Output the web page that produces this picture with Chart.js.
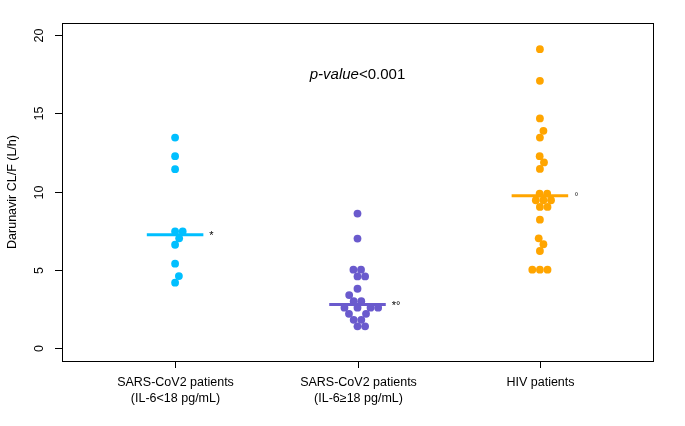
<!DOCTYPE html>
<html>
<head>
<meta charset="utf-8">
<script src="https://cdn.jsdelivr.net/npm/chart.js@4.4.1/dist/chart.umd.min.js"></script>
<style>
  html, body { margin: 0; padding: 0; background: #fff; }
  #wrap { width: 685px; height: 426px; }
</style>
</head>
<body>
<div id="wrap"><canvas id="chart" width="685" height="426"></canvas></div>
<script>
// Dati
const groupLabels = [
    ['SARS-CoV2 patients', '(IL-6<18 pg/mL)'],
    ['SARS-CoV2 patients', '(IL-6\u226518 pg/mL)'],
    ['HIV patients']
];
const groupColors = ['#00BFFF', '#6A5ACD', '#FFA500'];
const signifMarks = ['*', '*\u00b0', '\u00b0'];

const lowIL6 = [4.20, 4.62, 5.41, 6.62, 7.03, 7.47, 7.47, 11.44, 12.27, 13.46];
const highIL6 = [1.41, 1.41, 1.83, 1.83, 2.21, 2.21, 2.60, 2.60, 2.60, 2.60,
                 3.02, 3.02, 3.41, 3.81, 4.60, 4.60, 5.03, 5.03, 7.01, 8.61];
const hivGroup = [5.03, 5.03, 5.03, 6.22, 6.65, 7.03, 8.22, 9.03, 9.03, 9.46,
                  9.46, 9.46, 9.88, 9.88, 11.46, 11.87, 12.27, 13.46, 13.89,
                  14.68, 17.08, 19.10];
const medians = [7.25, 2.80, 9.75];
const yTicks = [0, 5, 10, 15, 20];
const pValueText = { italic: 'p-value', rest: '<0.001' };

const groups = [lowIL6, highIL6, hivGroup];
const fontFamily = '"Liberation Sans", Arial, sans-serif';
const pointR = 3.9;
const swarmD = 7.6;
const medianHalf = 0.155;

// beeswarm (metodo "swarm", priorità crescente)
function swarm(values, toPix, d) {
    const idx = values.map((v, i) => i).sort((a, b) => values[a] - values[b]);
    const placed = [];
    const off = new Array(values.length);
    idx.forEach(i => {
        const yi = -toPix(values[i]) / d;
        const near = placed.filter(p => Math.abs(p.y - yi) < 1);
        let xi = 0;
        if (near.length) {
            const cand = [0];
            near.forEach(p => cand.push(p.x + Math.sqrt(1 - (p.y - yi) ** 2)));
            near.forEach(p => cand.push(p.x - Math.sqrt(1 - (p.y - yi) ** 2)));
            const ok = cand.filter(c => near.every(p => (c - p.x) ** 2 + (yi - p.y) ** 2 > 0.999));
            xi = ok[0];
            ok.forEach(c => { if (Math.abs(c) < Math.abs(xi)) xi = c; });
        }
        placed.push({ x: xi, y: yi });
        off[i] = xi * d;
    });
    return off;
}

const datasets = [];
groups.forEach((vals, g) => {
    datasets.push({
        type: 'line',
        data: [{ x: g + 1 - medianHalf, y: medians[g] }, { x: g + 1 + medianHalf, y: medians[g] }],
        borderColor: groupColors[g],
        borderWidth: 3,
        pointRadius: 0,
        order: 0
    });
    datasets.push({
        type: 'scatter',
        data: vals.map(v => ({ x: g + 1, y: v })),
        backgroundColor: groupColors[g],
        borderWidth: 0,
        pointRadius: pointR,
        pointHoverRadius: pointR,
        order: 1
    });
});

const decorPlugin = {
    id: 'decor',
    afterDraw(chart) {
        const ctx = chart.ctx;
        const a = chart.chartArea;
        const xs = chart.scales.x, ys = chart.scales.y;
        ctx.save();
        ctx.strokeStyle = '#000';
        ctx.lineWidth = 1;
        ctx.strokeRect(Math.round(a.left) + 0.5, Math.round(a.top) + 0.5,
                       Math.round(a.right - a.left), Math.round(a.bottom - a.top));

        ctx.fillStyle = '#000';
        ctx.font = '12.5px ' + fontFamily;
        // asse y
        yTicks.forEach(t => {
            const py = Math.round(ys.getPixelForValue(t)) + 0.5;
            ctx.beginPath();
            ctx.moveTo(a.left, py);
            ctx.lineTo(a.left - 7, py);
            ctx.stroke();
            ctx.save();
            ctx.translate(a.left - 22, py);
            ctx.rotate(-Math.PI / 2);
            ctx.textAlign = 'center';
            ctx.textBaseline = 'middle';
            ctx.fillText(String(t), 0, 0);
            ctx.restore();
        });
        ctx.save();
        ctx.translate(13, (a.top + a.bottom) / 2);
        ctx.rotate(-Math.PI / 2);
        ctx.textAlign = 'center';
        ctx.textBaseline = 'middle';
        ctx.fillText('Darunavir CL/F (L/h)', 0, 0);
        ctx.restore();

        // asse x
        ctx.textAlign = 'center';
        ctx.textBaseline = 'middle';
        groupLabels.forEach((lab, g) => {
            const px = Math.round(xs.getPixelForValue(g + 1)) + 0.5;
            ctx.beginPath();
            ctx.moveTo(px, a.bottom);
            ctx.lineTo(px, a.bottom + 7);
            ctx.stroke();
            lab.forEach((line, k) => ctx.fillText(line, px, a.bottom + 22 + k * 16));
        });

        // simboli di significatività
        ctx.font = '11px ' + fontFamily;
        ctx.textAlign = 'left';
        signifMarks.forEach((m, g) => {
            const px = xs.getPixelForValue(g + 1 + medianHalf) + 6;
            ctx.fillStyle = g === 2 ? '#444' : '#000';
            ctx.fillText(m, px, ys.getPixelForValue(medians[g]) + 1);
        });

        // p-value
        ctx.fillStyle = '#000';
        ctx.font = 'italic 15px ' + fontFamily;
        const w1 = ctx.measureText(pValueText.italic).width;
        ctx.font = '15px ' + fontFamily;
        const w2 = ctx.measureText(pValueText.rest).width;
        const cx = xs.getPixelForValue(2), cy = ys.getPixelForValue(17.45);
        const x0 = cx - (w1 + w2) / 2;
        ctx.textAlign = 'left';
        ctx.font = 'italic 15px ' + fontFamily;
        ctx.fillText(pValueText.italic, x0, cy);
        ctx.font = '15px ' + fontFamily;
        ctx.fillText(pValueText.rest, x0 + w1, cy);
        ctx.restore();
    }
};

const chart = new Chart(document.getElementById('chart'), {
    data: { datasets: datasets },
    options: {
        responsive: false,
        animation: false,
        layout: { padding: { left: 62, top: 23, right: 32, bottom: 65 } },
        plugins: { legend: { display: false }, tooltip: { enabled: false } },
        scales: {
            x: { type: 'linear', min: 0.38, max: 3.62, display: false },
            y: { type: 'linear', min: -0.8, max: 20.77, display: false }
        }
    },
    plugins: [decorPlugin]
});

// disposizione a sciame calcolata sulla scala in pixel
const xs = chart.scales.x, ys = chart.scales.y;
const unitPx = xs.getPixelForValue(2) - xs.getPixelForValue(1);
groups.forEach((vals, g) => {
    const off = swarm(vals, v => ys.getPixelForValue(v), swarmD);
    chart.data.datasets[g * 2 + 1].data = vals.map((v, i) => ({ x: g + 1 + off[i] / unitPx, y: v }));
});
chart.update('none');
</script>
</body>
</html>
